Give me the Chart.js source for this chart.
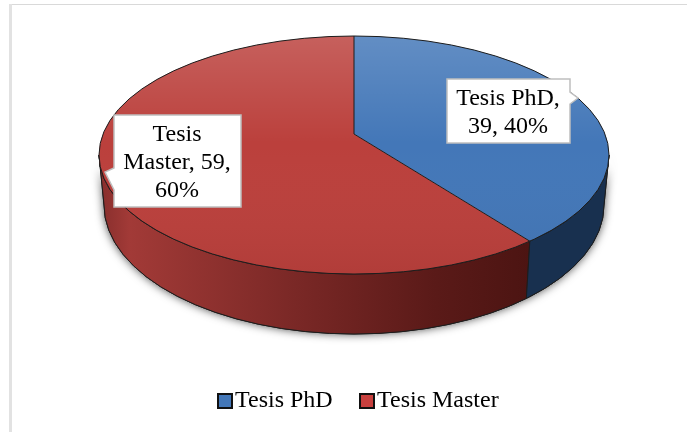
<!DOCTYPE html>
<html><head><meta charset="utf-8">
<style>html,body{margin:0;padding:0;background:#fff}canvas{display:block}</style>
<script src="https://cdn.jsdelivr.net/npm/chart.js@4"></script></head>
<body><canvas id="c" width="687" height="432"></canvas>
<script>
const categories = ["Tesis PhD", "Tesis Master"];
const values = [39, 59];
const percents = ["40%", "60%"];
const faceColors = ["#4377b8", "#bb403c"];
const legendColors = ["#4377b8", "#c8403e"];
const FONT = '24px "Liberation Serif"';
const TOP = {x:354, y:155, rx:255, ry:119};
const BOT = {x:354, y:205, rx:250, ry:129};
const APEX = {x:354, y:134, squash:0.455};

function ellipsePath(c, e){ c.beginPath(); c.ellipse(e.x,e.y,e.rx,e.ry,0,0,Math.PI*2); c.closePath(); }
function rayHit(a){
  const dx=Math.cos(a), dy=Math.sin(a)*APEX.squash;
  const ox=(APEX.x-TOP.x)/TOP.rx, oy=(APEX.y-TOP.y)/TOP.ry, ux=dx/TOP.rx, uy=dy/TOP.ry;
  const A=ux*ux+uy*uy, B=2*(ox*ux+oy*uy), C=ox*ox+oy*oy-1;
  const t=(-B+Math.sqrt(B*B-4*A*C))/(2*A);
  return {x:APEX.x+dx*t, y:APEX.y+dy*t};
}
const pie3d = {
  id:'pie3d',
  beforeDatasetsDraw(chart){
    const c=chart.ctx, arcs=chart.getDatasetMeta(0).data;
    const boundary=rayHit(arcs[0].endAngle);
    const t=Math.atan2((boundary.y-TOP.y)/TOP.ry,(boundary.x-TOP.x)/TOP.rx);
    const wall=(a0,a1,fill,shadow)=>{
      c.save();
      if(shadow){c.shadowColor='rgba(0,0,0,.75)';c.shadowBlur=10;}
      c.beginPath();
      c.ellipse(TOP.x,TOP.y,TOP.rx,TOP.ry,0,a0,a1);
      c.ellipse(BOT.x,BOT.y,BOT.rx,BOT.ry,0,a1,a0,true);
      c.closePath();
      c.fillStyle=fill;c.fill();
      c.shadowColor='transparent';
      c.strokeStyle='#1d1d1d';c.lineWidth=1;c.stroke();
      c.restore();
    };
    wall(0,Math.PI,'#333',true);
    const g=c.createLinearGradient(BOT.x-BOT.rx,0,boundary.x,0);
    g.addColorStop(0,'#8b302e');g.addColorStop(.06,'#a23a37');g.addColorStop(.45,'#7a2826');g.addColorStop(.78,'#5a1a18');g.addColorStop(1,'#4c1412');
    wall(t,Math.PI,g,false);
    wall(0,t,'#18304f',false);
    const a=arcs[0], k=340/a.outerRadius;
    c.save();
    ellipsePath(c,TOP);c.clip();
    c.translate(APEX.x,APEX.y);c.scale(k,k*APEX.squash);c.translate(-a.x,-a.y);
  },
  afterDatasetsDraw(chart){
    const c=chart.ctx, arcs=chart.getDatasetMeta(0).data;
    c.restore();
    c.save();
    ellipsePath(c,TOP);c.clip();
    const sheen=c.createLinearGradient(0,TOP.y-TOP.ry,0,TOP.y+TOP.ry);
    sheen.addColorStop(0,'rgba(255,255,255,.17)');sheen.addColorStop(.45,'rgba(255,255,255,0)');sheen.addColorStop(1,'rgba(0,0,0,.05)');
    c.fillStyle=sheen;c.fillRect(0,0,687,432);
    c.restore();
    c.save();
    c.strokeStyle='#1d1d1d';c.lineWidth=1;
    ellipsePath(c,TOP);c.stroke();
    c.beginPath();
    arcs.forEach(el=>{const p=rayHit(el.startAngle);c.moveTo(APEX.x,APEX.y);c.lineTo(p.x,p.y);});
    c.stroke();
    c.restore();
    drawCallout(c,{x:447,y:79,w:123,h:64,side:'right',tip:[578,98],p0:92,p1:104,cx:508,lines:[categories[0]+",",values[0]+", "+percents[0]],ty:99});
    drawCallout(c,{x:114,y:115,w:127,h:92,side:'left',tip:[105,172],p0:168,p1:190,cx:177,lines:[categories[1].split(" ")[0],categories[1].split(" ")[1]+", "+values[1]+",",percents[1]],ty:135});
    drawLegend(c);
  }
};
function drawCallout(c,b){
  c.save();
  c.beginPath();
  c.moveTo(b.x,b.y);c.lineTo(b.x+b.w,b.y);
  if(b.side==='right'){c.lineTo(b.x+b.w,b.p0);c.lineTo(b.tip[0],b.tip[1]);c.lineTo(b.x+b.w,b.p1);}
  c.lineTo(b.x+b.w,b.y+b.h);c.lineTo(b.x,b.y+b.h);
  if(b.side==='left'){c.lineTo(b.x,b.p1);c.lineTo(b.tip[0],b.tip[1]);c.lineTo(b.x,b.p0);}
  c.closePath();
  c.fillStyle='#fff';c.fill();
  c.strokeStyle='#bfbfbf';c.lineWidth=1.5;c.stroke();
  c.fillStyle='#000';c.font=FONT;c.textAlign='center';c.textBaseline='middle';
  b.lines.forEach((l,i)=>c.fillText(l,b.cx,b.ty+i*28));
  c.restore();
}
function drawLegend(c){
  const xs=[218,360], tx=[235,377], y=394;
  c.save();
  categories.forEach((n,i)=>{
    c.fillStyle=legendColors[i];c.fillRect(xs[i],y,14,14);
    c.strokeStyle='#111';c.lineWidth=2;c.strokeRect(xs[i],y,14,14);
    c.fillStyle='#000';c.font=FONT;c.textAlign='left';c.textBaseline='middle';
    c.fillText(n,tx[i],401);
  });
  c.restore();
}
const frame = {
  id:'frame',
  beforeDraw(chart){
    const c=chart.ctx;
    c.save();c.fillStyle='#fff';c.fillRect(0,0,687,432);
    c.fillStyle='#d9d9d9';c.fillRect(9,4,678,1);
    c.fillStyle='#e2e2e2';c.fillRect(9,4,3,428);
    c.restore();
  }
};
new Chart(document.getElementById('c'),{
  type:'pie',
  data:{labels:categories,datasets:[{data:values,backgroundColor:faceColors,borderWidth:0,clip:false}]},
  options:{responsive:false,animation:false,events:[],
    plugins:{legend:{display:false},tooltip:{enabled:false},title:{display:false}}},
  plugins:[frame,pie3d]
});
</script></body></html>
